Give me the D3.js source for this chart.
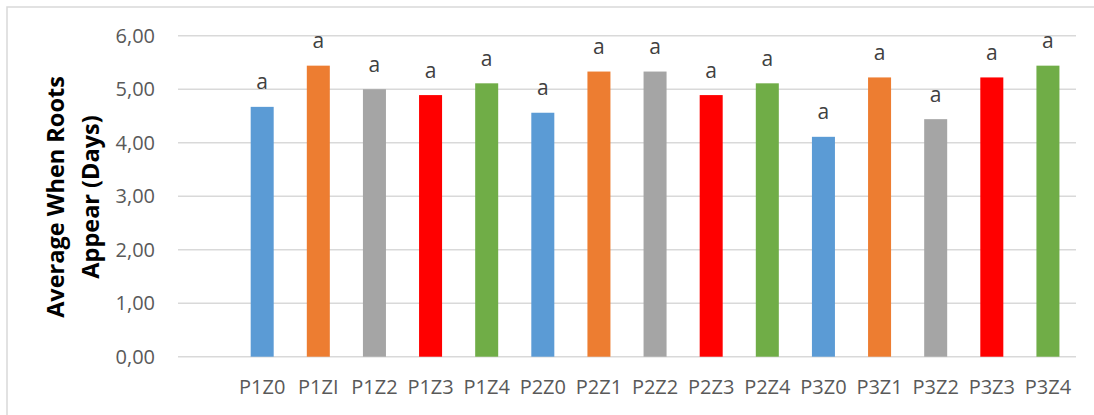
<!DOCTYPE html>
<html><head><meta charset="utf-8">
<script src="https://cdn.jsdelivr.net/npm/d3@7"></script>
<style>body{margin:0;background:#fff}svg{display:block}</style>
</head><body>
<script>
const categories = ["P1Z0","P1ZI","P1Z2","P1Z3","P1Z4","P2Z0","P2Z1","P2Z2","P2Z3","P2Z4","P3Z0","P3Z1","P3Z2","P3Z3","P3Z4"];
const values = [4.67,5.44,5.00,4.89,5.11,4.56,5.33,5.33,4.89,5.11,4.11,5.22,4.44,5.22,5.44];
const letters = ["a","a","a","a","a","a","a","a","a","a","a","a","a","a","a"];
const colors = ["#5B9BD5","#ED7D31","#A5A5A5","#FF0000","#70AD47"];
const yTicks = [0,1,2,3,4,5,6];
const yTitle = ["Average When Roots","Appear (Days)"];

const W = 1094, H = 415;
const svg = d3.select("body").append("svg").attr("width", W).attr("height", H);
svg.append("rect").attr("x",7).attr("y",7).attr("width",W).attr("height",H)
  .attr("fill","#fff").attr("stroke","#D9D9D9").attr("stroke-width",1.5);

const pL = 178, pR = 1076, pT = 35.7, pB = 356.7;
const x = d3.scaleBand().domain([""].concat(categories)).range([pL, pR]).paddingInner(0.59).paddingOuter(0.295);
const y = d3.scaleLinear().domain([0,6]).range([pB, pT]);

const font = "'Open Sans', sans-serif";
svg.append("g").selectAll("line").data(yTicks).join("line")
  .attr("x1", pL).attr("x2", pR)
  .attr("y1", d => y(d)).attr("y2", d => y(d))
  .attr("stroke", "#D9D9D9").attr("stroke-width", 1.5);

const yAxis = svg.append("g").attr("transform", `translate(${pL},0)`)
  .call(d3.axisLeft(y).tickValues(yTicks).tickSize(0).tickPadding(23).tickFormat(d => d3.format(".2f")(d).replace(".", ",")));
yAxis.select(".domain").remove();
yAxis.selectAll("text").attr("font-family", font).attr("font-size", 20).attr("fill", "#595959");

const xAxis = svg.append("g").attr("transform", `translate(0,${pB})`)
  .call(d3.axisBottom(x).tickValues(categories).tickSize(0).tickPadding(23.5));
xAxis.select(".domain").remove();
xAxis.selectAll("text").attr("font-family", font).attr("font-size", 20).attr("fill", "#595959");

svg.append("g").selectAll("rect").data(categories).join("rect")
  .attr("x", d => x(d)).attr("width", x.bandwidth())
  .attr("y", (d,i) => y(values[i])).attr("height", (d,i) => y(0) - y(values[i]))
  .attr("fill", (d,i) => colors[i % 5]);

svg.append("g").selectAll("text").data(categories).join("text")
  .attr("x", d => x(d) + x.bandwidth()/2)
  .attr("y", (d,i) => y(values[i]) - 17.5)
  .attr("text-anchor","middle").attr("font-family", font).attr("font-size", 21).attr("fill","#404040")
  .text((d,i) => letters[i]);

const t = svg.append("text").attr("transform", "translate(57,197) rotate(-90)")
  .attr("text-anchor","middle").attr("font-family", font).attr("font-weight","bold")
  .attr("font-size", 23.5).attr("fill","#000");
t.selectAll("tspan").data(yTitle).join("tspan")
  .attr("x",0).attr("dy",(d,i)=> i ? 35 : 7).text(d=>d);
</script>
</body></html>
